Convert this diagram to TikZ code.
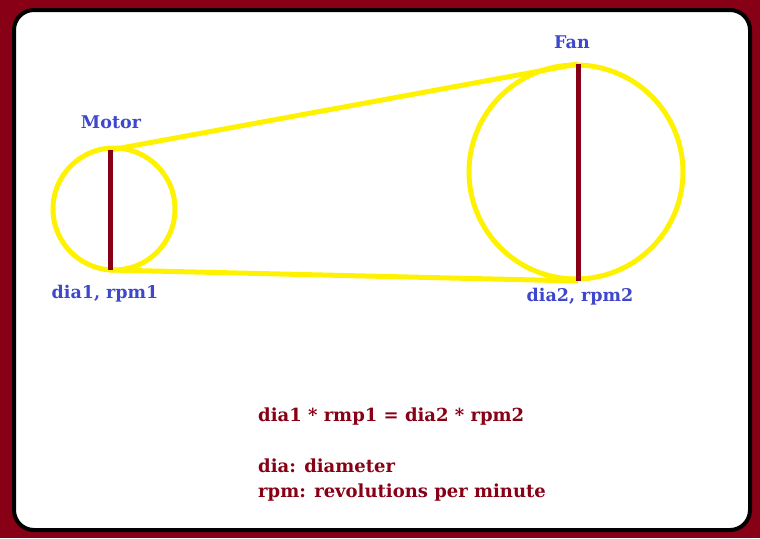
\documentclass[tikz,border=0pt]{standalone}
\usepackage{fontspec}
\setmainfont{DejaVu Serif}
\definecolor{frame}{HTML}{880015}
\definecolor{belt}{HTML}{FFF200}
\definecolor{lbl}{HTML}{3F48CC}
\tikzset{
  pulley/.style={draw=belt, line width=5pt},
  axis/.style={draw=frame, line width=5pt},
  tag/.style={text=lbl, font=\bfseries\fontsize{17.5}{20}\selectfont},
  note/.style={text=frame, font=\bfseries\fontsize{18}{20}\selectfont, anchor=base west, inner sep=0pt}
}
\begin{document}
\begin{tikzpicture}[x=1pt, y=-1pt]
  \fill[frame] (0,0) rectangle (760,538); % outer background
  \useasboundingbox (0,0) rectangle (760,538);
  \draw[fill=white, line width=4pt, rounded corners=20pt] (14,10) rectangle (750,530); % inner panel

  % pulleys
  \draw[pulley] (114,209) circle (61);
  \draw[pulley] (576,172) circle (107);

  % diameter end points
  \coordinate (m1) at (110,150);
  \coordinate (m2) at (110,270);
  \coordinate (f1) at (578,64);
  \coordinate (f2) at (578,281);

  % belt
  \draw[pulley] (m1) -- (f1);
  \draw[pulley] (m2) -- (f2);

  % diameters
  \draw[axis] (m1) -- (m2);
  \draw[axis] (f1) -- (f2);

  \node[tag] (motor) at (111,122) {Motor};
  \node[tag] (fan) at (572,42) {Fan};
  \node[tag] (d1) at (105,294) {dia1, rpm1};
  \node[tag] (d2) at (580,297) {dia2, rpm2};

  \node[note] (eq) at (258,421) {dia1 * rmp1 = dia2 * rpm2};
  \node[note] (dia) at (258,472) {dia: diameter};
  \node[note] (rpm) at (258,497) {rpm: revolutions per minute};
\end{tikzpicture}
\end{document}
